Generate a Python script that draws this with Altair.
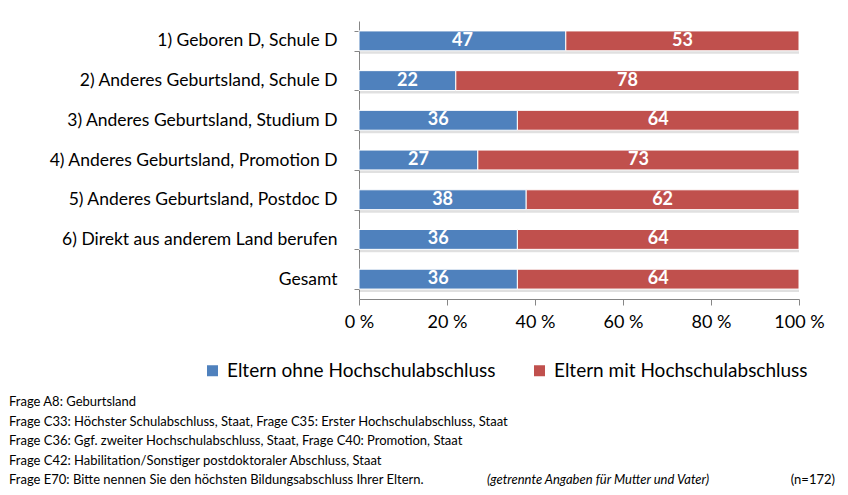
import altair as alt
import pandas as pd

categories = [
    "1) Geboren D, Schule D",
    "2) Anderes Geburtsland, Schule D",
    "3) Anderes Geburtsland, Studium D",
    "4) Anderes Geburtsland, Promotion D",
    "5) Anderes Geburtsland, Postdoc D",
    "6) Direkt aus anderem Land berufen",
    "Gesamt",
]
ohne = [47, 22, 36, 27, 38, 36, 36]
mit = [53, 78, 64, 73, 62, 64, 64]
series = ["Eltern ohne Hochschulabschluss", "Eltern mit Hochschulabschluss"]
colors = ["#4F81BD", "#C0504D"]
x_ticks = [0, 20, 40, 60, 80, 100]

footnotes = [
    "Frage A8: Geburtsland",
    "Frage C33: Höchster Schulabschluss, Staat, Frage C35: Erster Hochschulabschluss, Staat",
    "Frage C36: Ggf. zweiter Hochschulabschluss, Staat, Frage C40: Promotion, Staat",
    "Frage C42: Habilitation/Sonstiger postdoktoraler Abschluss, Staat",
    "Frage E70: Bitte nennen Sie den höchsten  Bildungsabschluss Ihrer Eltern.",
]
footnote_italic = "(getrennte Angaben für Mutter und Vater)"
footnote_n = "(n=172)"

rows = []
for i, c in enumerate(categories):
    rows.append({"cat": c, "series": series[0], "order": 0, "start": 0, "end": ohne[i], "val": ohne[i]})
    rows.append({"cat": c, "series": series[1], "order": 1, "start": ohne[i], "end": ohne[i] + mit[i], "val": mit[i]})
df = pd.DataFrame(rows)
df["mid"] = (df["start"] + df["end"]) / 2

FONT = "Lato"

y_enc = alt.Y(
    "cat:N", sort=categories, title=None,
    scale=alt.Scale(paddingInner=0.5, paddingOuter=0.25),
    axis=alt.Axis(
        labelFont=FONT, labelFontSize=17.5, labelColor="#000000", labelPadding=17,
        domainColor="#868686", tickColor="#868686", tickSize=5, tickBand="extent",
        labelLimit=400, grid=False,
    ),
)
x_enc = alt.X(
    "start:Q", title=None,
    scale=alt.Scale(domain=[0, 100], nice=False),
    axis=alt.Axis(
        values=x_ticks, labelExpr="datum.value + ' %'", grid=False, labelFlush=False,
        labelFont=FONT, labelFontSize=18, labelColor="#000000", labelPadding=8,
        domainColor="#868686", tickColor="#868686", tickSize=6,
    ),
)

shadow = alt.Chart(df).mark_bar(color="#000000", opacity=0.12, yOffset=3).encode(
    y=y_enc, x=x_enc, x2="end:Q"
)

bars = alt.Chart(df).mark_bar(stroke="#ffffff", strokeWidth=1).encode(
    y=y_enc,
    x=x_enc,
    x2="end:Q",
    color=alt.Color(
        "series:N", sort=series,
        scale=alt.Scale(domain=series, range=colors),
        legend=alt.Legend(
            title=None, orient="none", direction="horizontal",
            legendX=-156, legendY=340,
            labelFont=FONT, labelFontSize=19, labelColor="#000000", labelLimit=400,
            symbolType="square", symbolSize=121, symbolStrokeWidth=0,
            columnPadding=34, labelOffset=5,
        ),
    ),
    order="order:Q",
)

labels = alt.Chart(df).mark_text(
    color="#ffffff", font=FONT, fontSize=18, fontWeight="bold", baseline="middle"
).encode(
    y=alt.Y("cat:N", sort=categories),
    x=alt.X("mid:Q"),
    text="val:Q",
)

FN = 13
fn_layers = []
for k, t in enumerate(footnotes):
    fn_layers.append(
        alt.Chart(pd.DataFrame({"t": [t]})).mark_text(
            align="left", baseline="middle", font=FONT, fontSize=FN, color="#000000"
        ).encode(x=alt.value(-350), y=alt.value(381 + 19.5 * k), text="t:N")
    )
fn_layers.append(
    alt.Chart(pd.DataFrame({"t": [footnote_italic]})).mark_text(
        align="left", baseline="middle", font=FONT, fontSize=FN, fontStyle="italic", color="#000000"
    ).encode(x=alt.value(128), y=alt.value(381 + 19.5 * 4), text="t:N")
)
fn_layers.append(
    alt.Chart(pd.DataFrame({"t": [footnote_n]})).mark_text(
        align="right", baseline="middle", font=FONT, fontSize=FN, color="#000000"
    ).encode(x=alt.value(476), y=alt.value(381 + 19.5 * 4), text="t:N")
)

chart = alt.layer(shadow, bars, labels, *fn_layers).properties(
    width=440, height=278,
    padding={"left": 351, "top": 13, "right": 40, "bottom": 194},
    autosize=alt.AutoSizeParams(type="none"),
    background="#ffffff",
).configure_view(stroke=None)

chart.save("out.html", embed_options={"renderer": "svg", "actions": False})
